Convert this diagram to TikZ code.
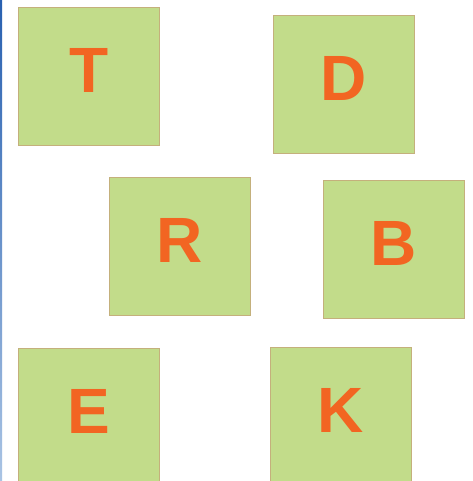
\documentclass[tikz,border=0pt]{standalone}
\usepackage{fontspec}
\setmainfont{Liberation Sans}
\definecolor{boxfill}{RGB}{194,220,138}
\definecolor{boxedge}{RGB}{196,176,124}
\definecolor{lettercol}{RGB}{242,101,34}
\definecolor{bluetop}{RGB}{40,96,176}
\definecolor{bluebot}{RGB}{170,196,228}
\tikzset{
  card/.style={draw=boxedge, line width=1pt, fill=boxfill, minimum width=141pt, minimum height=138pt, inner sep=0pt, anchor=north west},
  letter/.style={text=lettercol, font=\fontsize{64}{64}\selectfont\bfseries, inner sep=0pt}
}
\begin{document}
\begin{tikzpicture}[x=1pt,y=-1pt]
\useasboundingbox (0,0) rectangle (472,481);
\clip (0,0) rectangle (472,481);
\fill[white] (0,0) rectangle (472,481);
\shade[top color=bluetop, bottom color=bluebot] (0,0) rectangle (2,481);
\node[card, label={[letter,yshift=6.5pt]center:T}] (t) at (18,7) {};
\node[card, label={[letter,yshift=6.5pt]center:D}] (d) at (273,15) {};
\node[card, label={[letter,yshift=6.5pt]center:R}] (r) at (109,177) {};
\node[card, label={[letter,yshift=6.5pt]center:B}] (b) at (323,180) {};
\node[card, label={[letter,yshift=6.5pt]center:E}] (e) at (18,348) {};
\node[card, label={[letter,yshift=6.5pt]center:K}] (k) at (270,347) {};
\end{tikzpicture}
\end{document}
